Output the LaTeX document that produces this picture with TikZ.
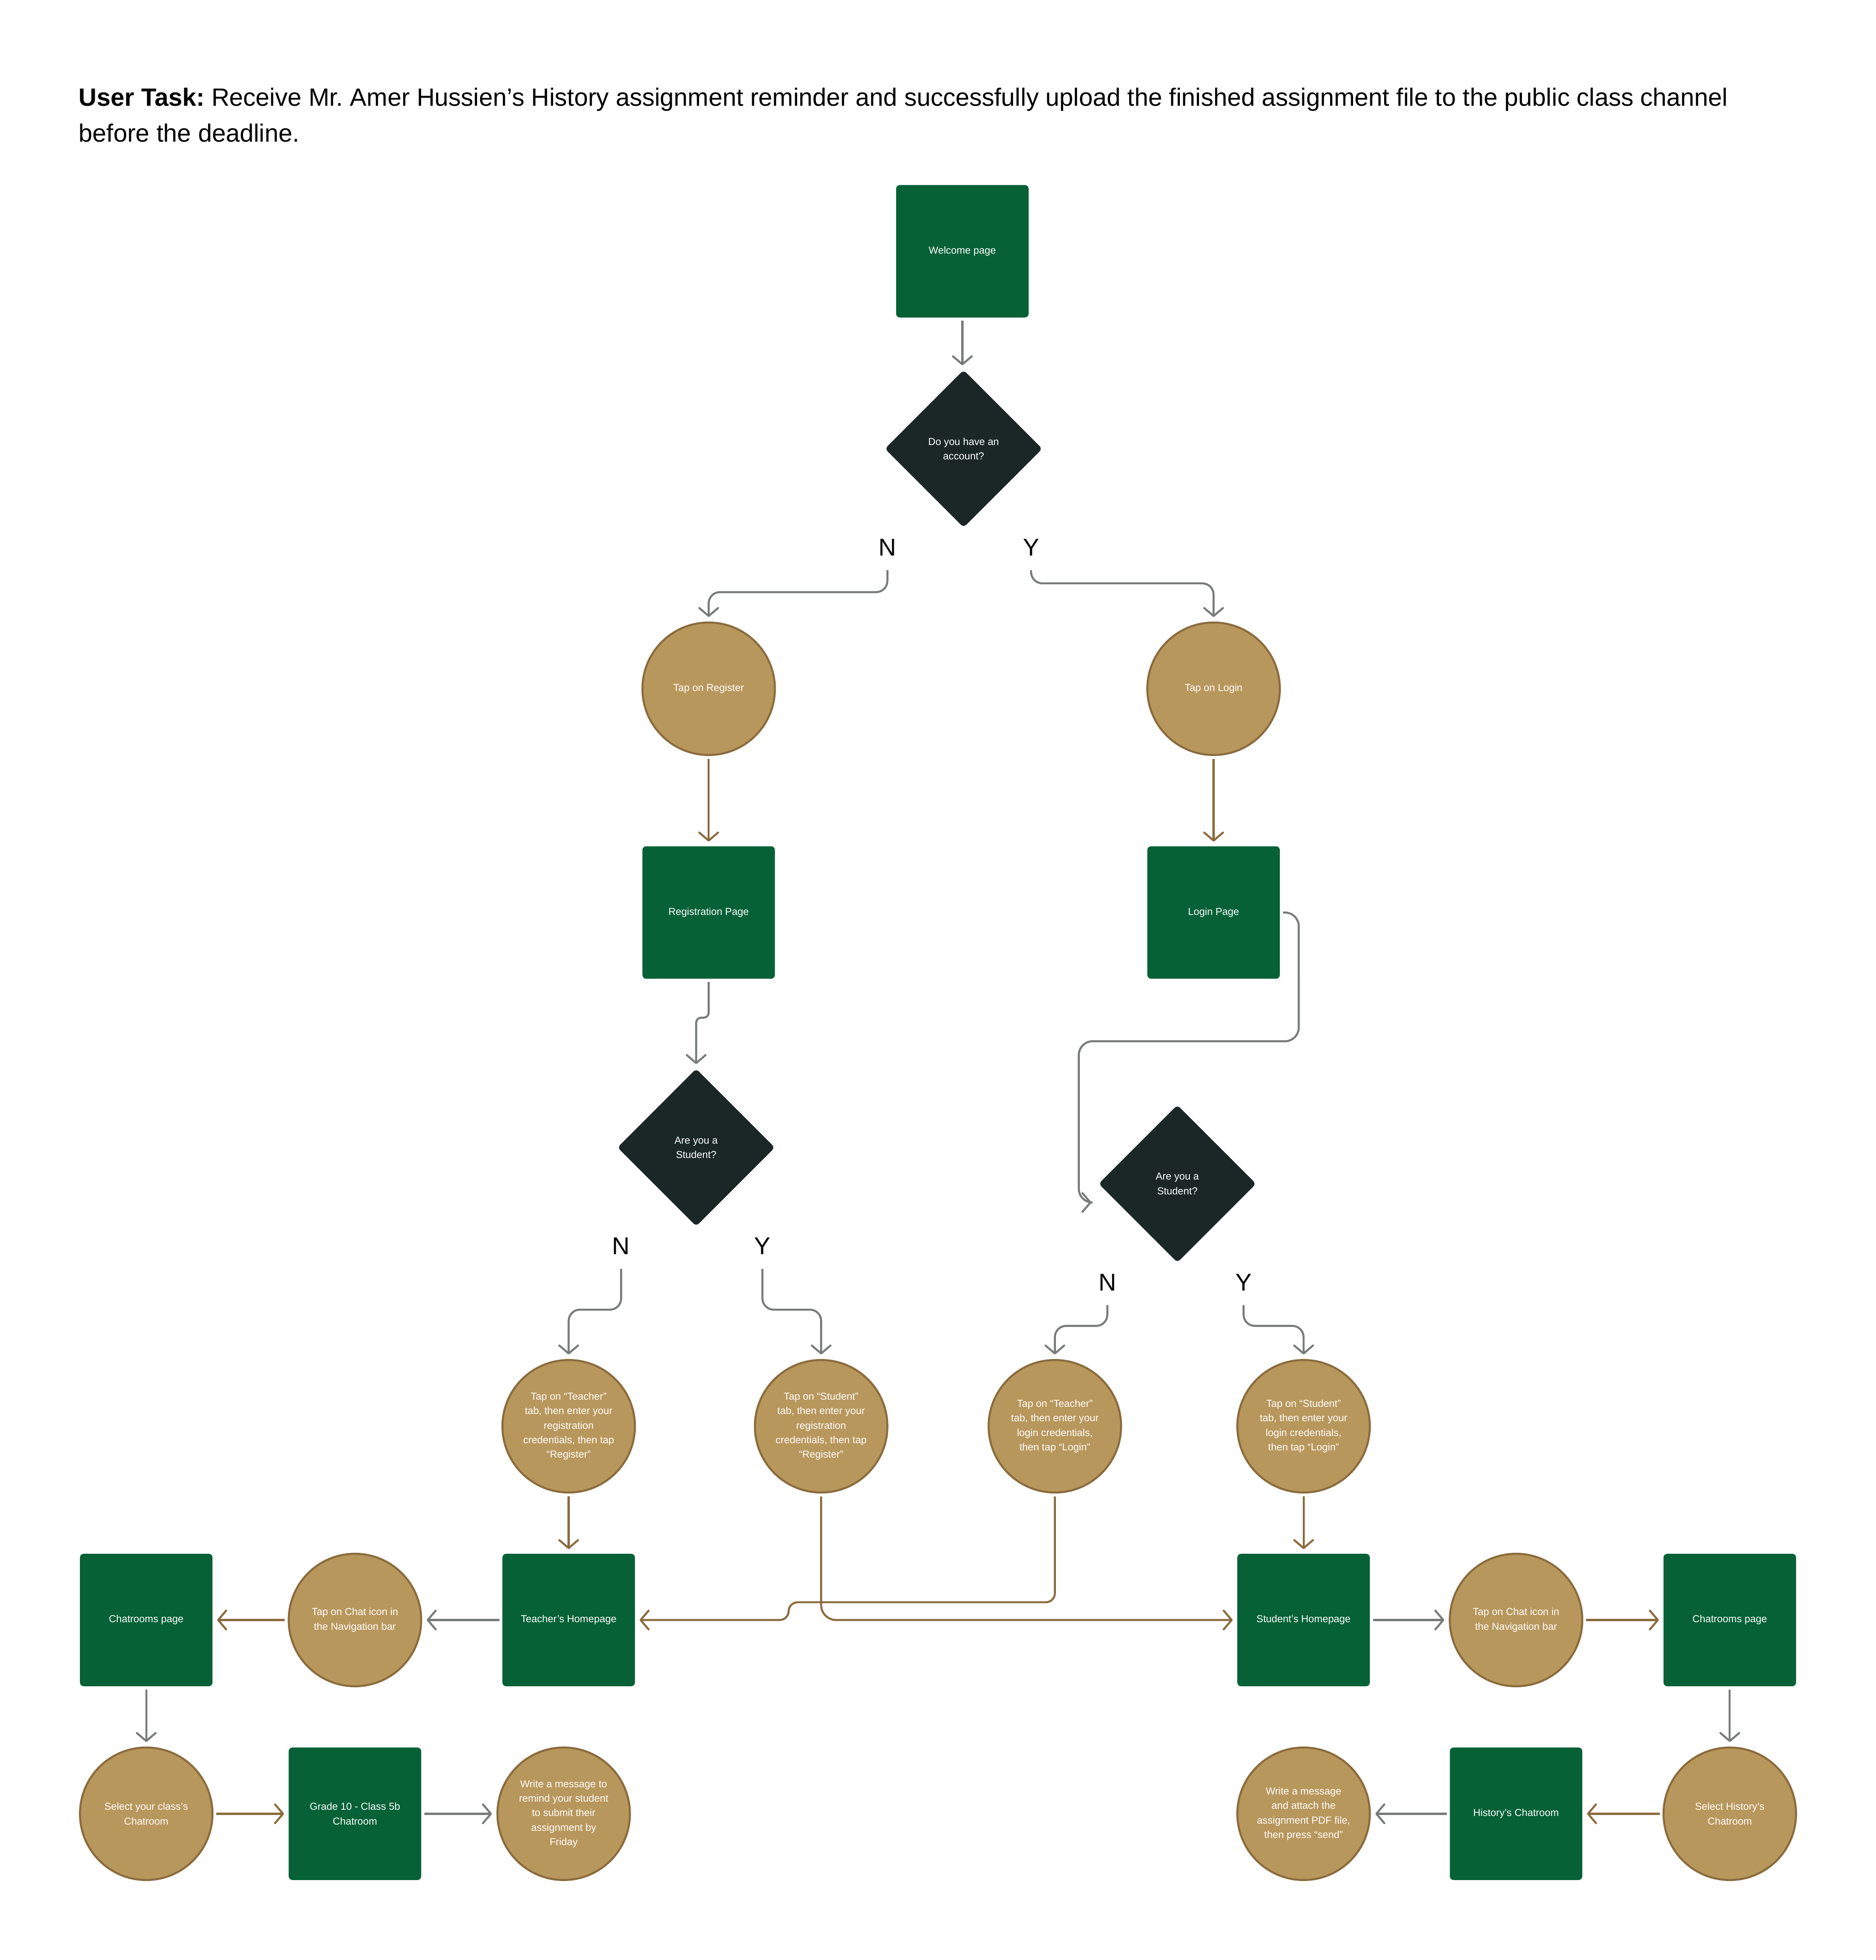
\documentclass[tikz,border=0pt]{standalone}
\usepackage{fontspec}
\setmainfont{Liberation Sans}
\usepackage{tikz}
\usetikzlibrary{positioning, arrows.meta, calc, shapes.geometric}
\definecolor{pagegreen}{HTML}{066136}
\definecolor{askdark}{HTML}{1B2727}
\definecolor{actfill}{HTML}{B8975C}
\definecolor{actline}{HTML}{8A6B3D}
\definecolor{flowgray}{HTML}{777B7A}
\frenchspacing

\begin{document}
\begin{tikzpicture}[x=0.05cm, y=-0.05cm,
    every node/.style={font=\fontsize{11.5pt}{16.5pt}\selectfont, align=center},
    page/.style={fill=pagegreen, text=white, rounded corners=0.15cm,
      minimum width=5.3cm, minimum height=5.3cm, inner sep=0pt},
    ask/.style={diamond, fill=askdark, text=white, rounded corners=0.15cm,
      minimum width=6.3cm, minimum height=6.3cm, inner sep=0pt},
    act/.style={circle, fill=actfill, draw=actline, line width=0.08cm,
      text=white, minimum size=5.3cm, inner sep=0pt},
    yn/.style={font=\fontsize{27.7pt}{33pt}\selectfont, inner sep=0pt, outer sep=0.45cm},
    flow/.style={line width=0.08cm, rounded corners=0.45cm,
      shorten <=0.12cm, shorten >=0.18cm,
      -{Straight Barb[length=0.32cm, width=0.75cm, round]}},
    gflow/.style={flow, draw=flowgray},
    bflow/.style={flow, draw=actline}]
  \useasboundingbox (0,0) rectangle (1501,1568);

  % task
  \node[anchor=north west, align=left, inner sep=0pt,
    font=\fontsize{28.4pt}{41.3pt}\selectfont] (task) at (63,70)
    {\textbf{User Task:} Receive Mr. Amer Hussien's History assignment reminder and successfully upload the finished assignment file to the public class channel\\before the deadline.};

  % top part
  \node[page] (welcome) at (770,201) {Welcome page};
  \node[ask] (q1) at (771,359) {Do you have an\\account?};
  \node[yn] (n1) at (710,438) {N};
  \node[yn] (y1) at (825,438) {Y};
  \node[act] (reg) at (567,551) {Tap on Register};
  \node[act] (login) at (971,551) {Tap on Login};
  \node[page] (regpage) at (567,730) {Registration Page};
  \node[page] (logpage) at (971,730) {Login Page};
  \node[ask] (q2) at (557,918) {Are you a\\Student?};
  \node[ask] (q3) at (942,947) {Are you a\\Student?};
  \node[yn] (n2) at (497,997) {N};
  \node[yn] (y2) at (610,997) {Y};
  \node[yn] (n3) at (886,1026) {N};
  \node[yn] (y3) at (995,1026) {Y};

  % credentials
  \node[act] (tchreg) at (455,1141) {Tap on “Teacher”\\tab, then enter your\\registration\\credentials, then tap\\“Register”};
  \node[act] (stdreg) at (657,1141) {Tap on “Student”\\tab, then enter your\\registration\\credentials, then tap\\“Register”};
  \node[act] (tchlog) at (844,1141) {Tap on “Teacher”\\tab, then enter your\\login credentials,\\then tap “Login”};
  \node[act] (stdlog) at (1043,1141) {Tap on “Student”\\tab, then enter your\\login credentials,\\then tap “Login”};

  % teacher side
  \node[page] (tchhome) at (455,1296) {Teacher’s Homepage};
  \node[act] (tchat) at (284,1296) {Tap on Chat icon in\\the Navigation bar};
  \node[page] (tchrooms) at (117,1296) {Chatrooms page};
  \node[act] (tchselect) at (117,1451) {Select your class’s\\Chatroom};
  \node[page] (grade) at (284,1451) {Grade 10 - Class 5b\\Chatroom};
  \node[act] (remind) at (451,1451) {Write a message to\\remind your student\\to submit their\\assignment by\\Friday};

  % student side
  \node[page] (stdhome) at (1043,1296) {Student’s Homepage};
  \node[act] (stdchat) at (1213,1296) {Tap on Chat icon in\\the Navigation bar};
  \node[page] (stdrooms) at (1384,1296) {Chatrooms page};
  \node[act] (stdselect) at (1384,1451) {Select History’s\\Chatroom};
  \node[page] (history) at (1213,1451) {History’s Chatroom};
  \node[act] (send) at (1043,1451) {Write a message\\and attach the\\assignment PDF file,\\then press “send”};

  % connectors
  \draw[gflow] (welcome) -- (welcome |- q1.north);
  \draw[gflow] (n1.south) -- ++(0,20) -| (reg.north);
  \draw[gflow] (y1.south) -- ++(0,13) -| (login.north);
  \draw[bflow] (reg) -- (regpage);
  \draw[bflow] (login) -- (logpage);
  \draw[gflow, rounded corners=0.2cm] (regpage.south) -- ++(0,31) -| (q2.north);
  \draw[gflow, rounded corners=0.55cm] (logpage.east) -| ++(15,103) -| ++(-176,129)
    -- ($(q3.west)+(-2,15)$);
  \draw[gflow] (n2.south) -- ++(0,35) -| (tchreg.north);
  \draw[gflow] (y2.south) -- ++(0,35) -| (stdreg.north);
  \draw[gflow] (n3.south) -- ++(0,19) -| (tchlog.north);
  \draw[gflow] (y3.south) -- ++(0,19) -| (stdlog.north);

  \draw[bflow] (tchreg) -- (tchhome);
  \draw[bflow] (stdlog) -- (stdhome);
  \draw[bflow, rounded corners=0.6cm] (stdreg.south) |- (stdhome.west);
  \draw[bflow, rounded corners=0.36cm] (tchlog.south) -- ++(0,87) -- ++(-213,0)
    |- (tchhome.east);

  \draw[gflow] (tchhome) -- (tchat);
  \draw[bflow] (tchat) -- (tchrooms);
  \draw[gflow] (tchrooms) -- (tchselect);
  \draw[bflow] (tchselect) -- (grade);
  \draw[gflow] (grade) -- (remind);
  \draw[gflow] (stdhome) -- (stdchat);
  \draw[bflow] (stdchat) -- (stdrooms);
  \draw[gflow] (stdrooms) -- (stdselect);
  \draw[bflow] (stdselect) -- (history);
  \draw[gflow] (history) -- (send);
\end{tikzpicture}
\end{document}
